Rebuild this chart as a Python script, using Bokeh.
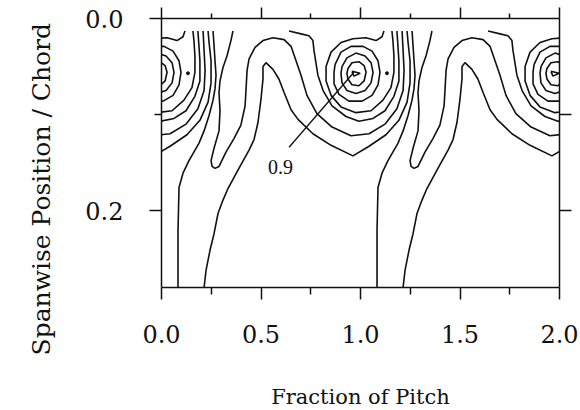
from bokeh.plotting import figure
from bokeh.models import Range1d, LinearAxis, FixedTicker, PrintfTickFormatter, Title
from bokeh.core.properties import value
from bokeh.embed import file_html
from bokeh.resources import INLINE

# ---- data: contour lines of one blade pitch (x = fraction of pitch, y = spanwise/chord)
R1_X = [0.957, 0.998, 0.967, 0.957]
R1_Y = [0.055, 0.057, 0.060, 0.055]

R2_X = [0.937, 0.957, 0.992, 1.018, 1.028, 1.018, 0.992, 0.957, 0.937, 0.932, 0.937]
R2_Y = [0.052, 0.046, 0.045, 0.049, 0.056, 0.065, 0.070, 0.069, 0.063, 0.057, 0.052]

R3_X = [0.907, 0.932, 0.977, 1.023, 1.053, 1.063, 1.053, 1.023, 0.977, 0.932, 0.907, 0.902, 0.907]
R3_Y = [0.050, 0.041, 0.036, 0.039, 0.046, 0.056, 0.067, 0.075, 0.078, 0.075, 0.067, 0.057, 0.050]

R4_X = [0.872, 0.902, 0.952, 1.013, 1.058, 1.088, 1.098, 1.088, 1.058, 1.008, 0.942, 0.892, 0.867, 0.867, 0.872]
R4_Y = [0.048, 0.035, 0.029, 0.029, 0.034, 0.044, 0.056, 0.069, 0.080, 0.086, 0.086, 0.079, 0.068, 0.056, 0.048]

R5_X = [1.118, 1.108, 1.078, 1.028, 0.962, 0.902, 0.852, 0.827, 0.827, 0.852, 0.902, 0.977, 1.053, 1.113, 1.153, 1.168, 1.168, 1.163, 1.158]
R5_Y = [0.013, 0.019, 0.023, 0.020, 0.021, 0.025, 0.035, 0.050, 0.065, 0.080, 0.092, 0.098, 0.096, 0.085, 0.072, 0.056, 0.039, 0.023, 0.013]

R6_X = [0.641, 0.701, 0.741, 0.761, 0.766, 0.776, 0.786, 0.812, 0.857, 0.927, 0.992, 1.063, 1.123, 1.168, 1.193, 1.193, 1.188, 1.183]
R6_Y = [0.013, 0.016, 0.018, 0.023, 0.033, 0.046, 0.059, 0.075, 0.091, 0.102, 0.107, 0.104, 0.096, 0.081, 0.065, 0.044, 0.028, 0.013]

FINGER_X = [0.359, 0.349, 0.329, 0.309, 0.294, 0.289, 0.294, 0.289, 0.264, 0.249, 0.254, 0.269, 0.289,
            0.324, 0.364, 0.399, 0.420, 0.425, 0.430, 0.440, 0.470, 0.510, 0.560, 0.616, 0.651, 0.676,
            0.701, 0.731, 0.781, 0.857, 0.952, 1.043, 1.123, 1.183, 1.214, 1.219, 1.214, 1.209]
FINGER_Y = [0.013, 0.023, 0.039, 0.051, 0.065, 0.077, 0.096, 0.117, 0.135, 0.148, 0.154, 0.156, 0.154,
            0.139, 0.125, 0.111, 0.091, 0.073, 0.054, 0.042, 0.030, 0.023, 0.020, 0.022, 0.029, 0.044,
            0.059, 0.080, 0.099, 0.113, 0.122, 0.120, 0.110, 0.094, 0.075, 0.054, 0.033, 0.013]

ARCH_X = [0.214, 0.224, 0.244, 0.264, 0.284, 0.309, 0.334, 0.389, 0.440, 0.465, 0.485, 0.500, 0.510,
          0.510, 0.525, 0.560, 0.590, 0.616, 0.651, 0.686, 0.761, 0.852, 0.962, 1.043, 1.128, 1.193,
          1.234, 1.249, 1.249, 1.239, 1.234]
ARCH_Y = [0.280, 0.262, 0.241, 0.224, 0.203, 0.189, 0.177, 0.156, 0.137, 0.126, 0.108, 0.084, 0.063,
          0.050, 0.046, 0.053, 0.063, 0.077, 0.095, 0.105, 0.120, 0.132, 0.143, 0.133, 0.121, 0.106,
          0.087, 0.067, 0.044, 0.025, 0.013]

OUTER_X = [0.083, 0.083, 0.088, 0.108, 0.138, 0.188, 0.214, 0.239, 0.259, 0.269, 0.274, 0.269, 0.264, 0.259]
OUTER_Y = [0.280, 0.221, 0.176, 0.161, 0.148, 0.130, 0.117, 0.101, 0.085, 0.073, 0.059, 0.044, 0.028, 0.013]

PROBE_X = [0.133]
PROBE_Y = [0.057]

PITCH_COPIES = [-1, 0, 1]

LEADER_X = [0.641, 0.967]
LEADER_Y = [0.134, 0.056]
LEVEL_LABEL = "0.9"
LEVEL_LABEL_X = [0.535]
LEVEL_LABEL_Y = [0.155]

X_TICKS = [0.0, 0.5, 1.0, 1.5, 2.0]
X_MINOR = [0.25, 0.75, 1.25, 1.75]
Y_TICKS = [0.0, 0.2]
Y_MINOR = [0.1]
RIGHT_TICKS = [0.1, 0.2]

contours = [(R1_X, R1_Y), (R2_X, R2_Y), (R3_X, R3_Y), (R4_X, R4_Y), (R5_X, R5_Y),
            (R6_X, R6_Y), (FINGER_X, FINGER_Y), (ARCH_X, ARCH_Y), (OUTER_X, OUTER_Y)]

xs, ys = [], []
px, py = [], []
for k in PITCH_COPIES:
    for cx, cy in contours:
        xs.append([v + k for v in cx])
        ys.append(list(cy))
    px += [v + k for v in PROBE_X]
    py += PROBE_Y

p = figure(frame_width=398, frame_height=269,
           x_range=Range1d(0, 2), y_range=Range1d(0.28, 0),
           output_backend="svg", toolbar_location=None,
           min_border_left=161, min_border_right=21, min_border_top=18, min_border_bottom=123,
           background_fill_color="white", border_fill_color="white")
p.outline_line_color = None
p.grid.visible = False

p.multi_line(xs, ys, line_color="#111111", line_width=1.6)
p.scatter(px, py, size=3, color="#111111")
p.line(LEADER_X, LEADER_Y, line_color="#111111", line_width=1.3)
p.text(x=LEVEL_LABEL_X, y=LEVEL_LABEL_Y, text=[LEVEL_LABEL], text_font=value("Liberation Serif"),
       text_font_size="20px", text_baseline="middle", text_align="left", text_color="#111111")

serif = "DejaVu Serif"

def style(ax, tick_out, minor_out):
    ax.axis_line_color = "#111111"
    ax.axis_line_width = 1.5
    ax.major_tick_line_color = "#111111"
    ax.minor_tick_line_color = "#111111"
    ax.major_tick_line_width = 1.5
    ax.minor_tick_line_width = 1.5
    ax.major_tick_in = 0
    ax.minor_tick_in = 0
    ax.major_tick_out = tick_out
    ax.minor_tick_out = minor_out

xa = p.xaxis[0]
xa.ticker = FixedTicker(ticks=X_TICKS, minor_ticks=X_MINOR)
xa.formatter = PrintfTickFormatter(format="%.1f")
style(xa, 12, 7)
xa.major_label_text_font = serif
xa.major_label_text_font_size = "24px"
xa.major_label_text_color = "#111111"
xa.major_label_standoff = 25
xa.axis_label = "Fraction of Pitch"
xa.axis_label_text_font = serif
xa.axis_label_text_font_size = "21px"
xa.axis_label_text_font_style = "normal"
xa.axis_label_text_color = "#111111"
xa.axis_label_standoff = 39

ya = p.yaxis[0]
ya.ticker = FixedTicker(ticks=Y_TICKS, minor_ticks=Y_MINOR)
ya.formatter = PrintfTickFormatter(format="%.1f")
style(ya, 12, 7)
ya.major_label_text_font = serif
ya.major_label_text_font_size = "24px"
ya.major_label_text_color = "#111111"
ya.major_label_standoff = 26

top = LinearAxis(ticker=FixedTicker(ticks=X_TICKS, minor_ticks=X_MINOR),
                 major_label_text_font_size="0px", major_label_standoff=0)
style(top, 11, 5)
p.add_layout(top, "above")

right = LinearAxis(ticker=FixedTicker(ticks=RIGHT_TICKS, minor_ticks=[]),
                   major_label_text_font_size="0px", major_label_standoff=0)
style(right, 12, 0)
p.add_layout(right, "right")

ytitle = Title(text="Spanwise Position / Chord", align="left", offset=-68, standoff=50,
               vertical_align="top", text_font=serif, text_font_size="25px",
               text_font_style="normal", text_color="#111111")
p.add_layout(ytitle, "left")

open("out.html", "w").write(file_html(p, INLINE))
